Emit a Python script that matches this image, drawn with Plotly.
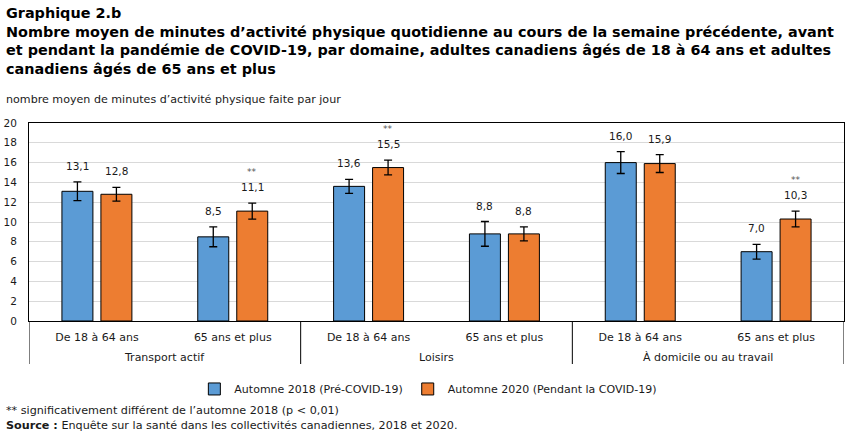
import plotly.graph_objects as go

domains = ["Transport actif", "Loisirs", "À domicile ou au travail"]
ages = ["De 18 à 64 ans", "65 ans et plus"] * 3
positions = list(range(len(ages)))

series_names = ["Automne 2018 (Pré-COVID-19)", "Automne 2020 (Pendant la COVID-19)"]
values_2018 = [13.1, 8.5, 13.6, 8.8, 16.0, 7.0]
values_2020 = [12.8, 11.1, 15.5, 8.8, 15.9, 10.3]
err_2018 = [0.95, 1.0, 0.7, 1.25, 1.1, 0.75]
err_2020 = [0.7, 0.8, 0.75, 0.7, 0.9, 0.8]
signif_2020 = [False, True, True, False, False, True]
colors = ["#5B9BD5", "#ED7D31"]

y_title = "nombre moyen de minutes d’activité physique faite par jour"
title_lines = [
    "Graphique 2.b",
    "Nombre moyen de minutes d’activité physique quotidienne au cours de la semaine précédente, avant",
    "et pendant la pandémie de COVID-19, par domaine, adultes canadiens âgés de 18 à 64 ans et adultes",
    "canadiens âgés de 65 ans et plus",
]
note1 = "** significativement différent de l’automne 2018 (p < 0,01)"
note2 = "<b>Source :</b> Enquête sur la santé dans les collectivités canadiennes, 2018 et 2020."

FONT = "DejaVu Sans"
TXT = "#1a1a1a"
TOP, BOT, LEFT = 123, 117, 29
PLOT_H = 438 - TOP - BOT  # plot area height in px

fig = go.Figure()
for name, vals, errs, col in zip(series_names, [values_2018, values_2020],
                                 [err_2018, err_2020], colors):
    fig.add_trace(go.Bar(
        x=positions, y=vals, name=name,
        marker=dict(color=col, line=dict(color="black", width=1)),
        error_y=dict(type="data", array=errs, color="black", thickness=1.3, width=4),
    ))

off = 0.1436
annotations = []
for i in positions:
    for s, (vals, errs) in enumerate([(values_2018, err_2018), (values_2020, err_2020)]):
        xpos = i - off if s == 0 else i + off
        top = vals[i] + errs[i]
        annotations.append(dict(
            x=xpos, y=top, xref="x", yref="y", text=f"{vals[i]:.1f}".replace(".", ","),
            showarrow=False, yanchor="bottom", yshift=8,
            font=dict(family=FONT, size=10.5, color=TXT)))
        if s == 1 and signif_2020[i]:
            annotations.append(dict(
                x=xpos, y=top, xref="x", yref="y", text="**",
                showarrow=False, yanchor="bottom", yshift=24,
                font=dict(family=FONT, size=9, color="#555")))

# domain (second level) labels
for g, dom in enumerate(domains):
    annotations.append(dict(
        x=2 * g + 0.5, y=0, xref="x", yref="paper", yanchor="middle", yshift=-36,
        text=dom, showarrow=False, font=dict(family=FONT, size=11, color=TXT)))

shapes = []
for b in [-0.5, 1.5, 3.5, 5.5]:
    shapes.append(dict(type="line", xref="x", yref="paper", x0=b, x1=b,
                       y0=0, y1=-43 / PLOT_H, line=dict(color="black", width=1)))

annotations.append(dict(
    x=0, y=1, xref="paper", yref="paper", xanchor="left", yanchor="top",
    xshift=-25, yshift=TOP - 3,
    text="<br>".join(f"<b>{t}</b>" for t in title_lines), align="left",
    showarrow=False, font=dict(family="DejaVu Sans", size=14.4, color="black")))
annotations.append(dict(
    x=0, y=1, xref="paper", yref="paper", xanchor="left", yanchor="top",
    xshift=-25, yshift=32,
    text=y_title, align="left", showarrow=False,
    font=dict(family=FONT, size=11.1, color=TXT)))
annotations.append(dict(
    x=0, y=0, xref="paper", yref="paper", xanchor="left", yanchor="top",
    xshift=-25, yshift=-81,
    text=note1 + "<br>" + note2, align="left", showarrow=False,
    font=dict(family=FONT, size=11.2, color=TXT)))

fig.update_layout(
    width=854, height=438,
    margin=dict(l=LEFT, r=10, t=TOP, b=BOT, autoexpand=False),
    paper_bgcolor="white", plot_bgcolor="white",
    barmode="group", bargap=0.426, bargroupgap=0.205,
    font=dict(family=FONT, size=11, color=TXT),
    showlegend=True,
    legend=dict(orientation="h", x=0.49, xanchor="center", y=-0.27, yanchor="top",
                font=dict(family=FONT, size=11, color=TXT),
                itemwidth=30, tracegroupgap=0),
    annotations=annotations,
    shapes=shapes,
)
fig.update_yaxes(range=[0, 20], dtick=2, showgrid=True, gridcolor="#d9d9d9",
                 showline=True, linecolor="black", linewidth=1, mirror=True,
                 ticks="outside", ticklen=9, tickcolor="rgba(0,0,0,0)",
                 zeroline=False, tickfont=dict(size=10.5), automargin=False)
fig.update_xaxes(range=[-0.5, 5.5], tickvals=positions, ticktext=ages,
                 showline=True, linecolor="black", linewidth=1, mirror=True,
                 showgrid=False, zeroline=False, automargin=False,
                 ticks="outside", ticklen=6, tickcolor="rgba(0,0,0,0)",
                 tickfont=dict(size=11))

fig.write_html("out.html")
